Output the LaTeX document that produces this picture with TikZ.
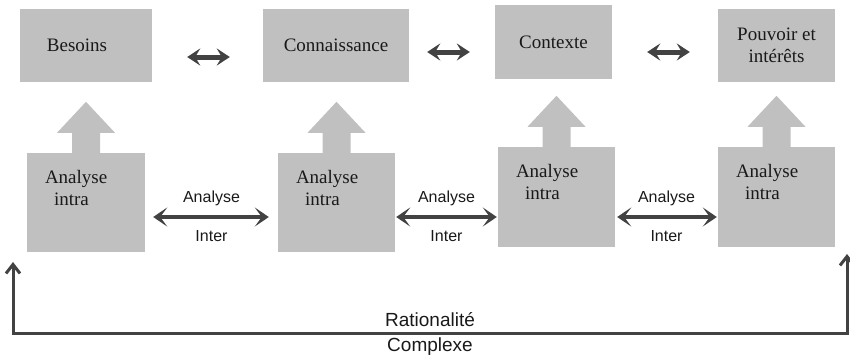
\documentclass[tikz,border=0pt]{standalone}
\usepackage{fontspec}
\setmainfont{Liberation Serif}
\newfontfamily\arialfont{Liberation Sans}
\usetikzlibrary{arrows.meta}
\definecolor{boxgray}{RGB}{192,192,192}
\definecolor{arrowgray}{RGB}{66,66,66}
\definecolor{inkgray}{RGB}{25,25,25}

\begin{document}
\begin{tikzpicture}[x=1pt, y=-1pt,
  every node/.style={text=inkgray},
  topbox/.style={fill=boxgray, minimum width=#1, minimum height=73pt, inner sep=0pt, align=center, font=\fontsize{19}{22}\selectfont},
  topbox/.default=117pt,
  intrabox/.style={fill=boxgray, minimum width=#1, minimum height=99pt, inner sep=0pt,
    label={[anchor=north west, xshift=18pt, yshift=-17pt, inner sep=0pt, align=left, text=inkgray, font=\fontsize{19}{22}\selectfont]north west:Analyse\\\hspace*{9pt}intra}},
  intrabox/.default=117pt,
  upblock/.style={fill=boxgray},
  toparrow/.style={arrowgray, line width=5pt, {Stealth[length=13pt,width=17pt,inset=5pt]}-{Stealth[length=13pt,width=17pt,inset=5pt]}},
  interarrow/.style={arrowgray, line width=3.5pt, {Stealth[length=14pt,width=19pt,inset=7pt]}-{Stealth[length=14pt,width=19pt,inset=7pt]}},
  intertext/.style={font=\arialfont\fontsize{16}{18}\selectfont},
  loopline/.style={arrowgray, line width=3pt, {Straight Barb[length=9pt,width=14pt]}-{Straight Barb[length=9pt,width=14pt]}},
  looptext/.style={font=\arialfont\fontsize{19}{22}\selectfont}
]
\useasboundingbox (0,0) rectangle (850,360);

% top row
\node[topbox=132pt] (besoins) at (86,45.5) {Besoins\hspace*{18pt}};
\node[topbox=146pt] (connais) at (336,45.5) {Connaissance};
\node[topbox, minimum height=74pt] (contexte) at (553.5,42) {Contexte};
\node[topbox] (pouvoir) at (776.5,45.5) {Pouvoir et\\intérêts};

\draw[toparrow, shorten <=35pt, shorten >=33pt] ([yshift=-11.5pt]besoins.east) -- ([yshift=-11.5pt]connais.west);
\draw[toparrow, shorten <=18pt, shorten >=25pt] ([yshift=-6.5pt]connais.east) -- ([yshift=-10pt]contexte.west);
\draw[toparrow, shorten <=35pt, shorten >=28pt] ([yshift=-10pt]contexte.east) -- ([yshift=-6.5pt]pouvoir.west);

% bottom row
\node[intrabox=118pt] (intra1) at (86,202.5) {};
\node[intrabox] (intra2) at (336.5,202.5) {};
\node[intrabox, minimum height=100pt] (intra3) at (556.5,197) {};
\node[intrabox, minimum height=100pt] (intra4) at (776.5,197) {};

\foreach \n in {intra1,intra2,intra3,intra4}
  \fill[upblock] ([xshift=-14pt]\n.north) -- ++(0,-20) -- ++(-15,0) -- ++(29,-31) -- ++(29,31) -- ++(-15,0) -- ++(0,20) -- cycle;

\draw[interarrow, shorten <=8pt, shorten >=9pt] ([yshift=-14.5pt]intra1.east) -- ([yshift=-14.5pt]intra2.west)
  node[midway, yshift=19pt, intertext] {Analyse} node[midway, yshift=-19pt, intertext] {Inter};
\draw[interarrow, shorten <=1pt, shorten >=1pt] ([yshift=-14.5pt]intra2.east) -- ([yshift=-20pt]intra3.west)
  node[midway, yshift=19pt, intertext] {Analyse} node[midway, yshift=-19pt, intertext] {Inter};
\draw[interarrow, shorten <=2pt, shorten >=1pt] ([yshift=-20pt]intra3.east) -- ([yshift=-20pt]intra4.west)
  node[midway, yshift=19pt, intertext] {Analyse} node[midway, yshift=-19pt, intertext] {Inter};

% feedback loop
\coordinate (loopL) at (13,262);
\coordinate (cornerL) at (13,333);
\coordinate (cornerR) at (847,333);
\coordinate (loopR) at (847,254);
\draw[loopline] (loopL) -- (cornerL) -- (cornerR)
  node[midway, yshift=13pt, looptext] {Rationalité} node[midway, yshift=-14pt, looptext] {Complexe} -- (loopR);
\end{tikzpicture}
\end{document}
